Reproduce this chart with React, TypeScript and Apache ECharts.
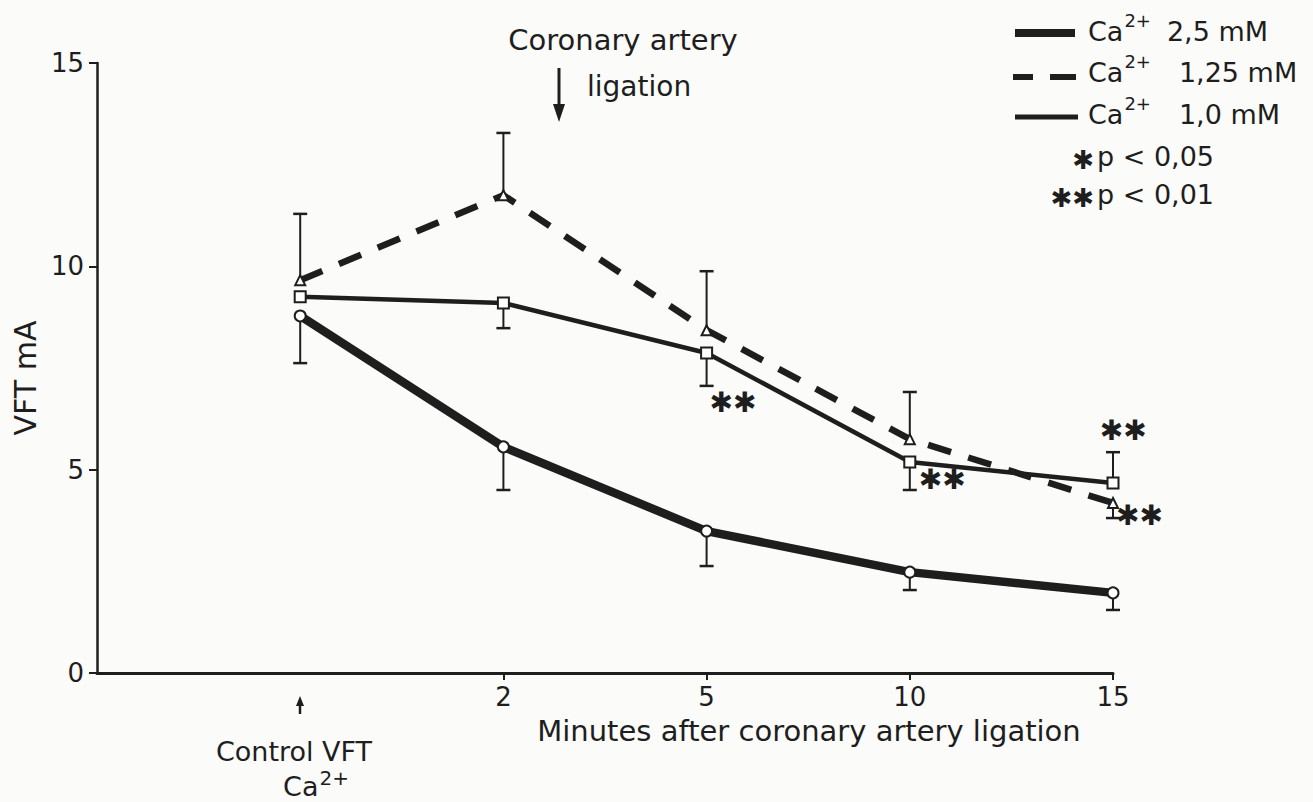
import React, { useEffect, useRef } from "react";
import * as echarts from "echarts";

// x positions: 0 = control, 1..4 = minutes after ligation
const xPositions = [0, 1, 2, 3, 4];
const xTickLabels: Record<number, string> = { 1: "2", 2: "5", 3: "10", 4: "15" };

const ca25 = [8.78, 5.56, 3.49, 2.48, 1.97];
const ca25ErrEnd = [7.62, 4.5, 2.63, 2.04, 1.55];

const ca125 = [9.66, 11.75, 8.43, 5.75, 4.18];
const ca125ErrEnd = [11.29, 13.28, 9.88, 6.91, 3.81];

const ca10 = [9.25, 9.1, 7.87, 5.19, 4.67];
const ca10ErrEnd: (number | null)[] = [null, 8.48, 7.06, 4.5, 5.43];

const starX = [2.13, 3.16, 4.05, 4.13];
const starY = [6.64, 4.75, 5.97, 3.88];
const starText = ["✱✱", "✱✱", "✱✱", "✱✱"];

const FONT = "DejaVu Sans";
const INK = "#1e1e1e";

function pairs(vals: number[]) {
  return xPositions.map((x, i) => [x, vals[i]]);
}
function errData(vals: number[], ends: (number | null)[]) {
  const out: number[][] = [];
  xPositions.forEach((x, i) => {
    if (ends[i] != null) out.push([x, vals[i], ends[i] as number]);
  });
  return out;
}

const errRender = (params: any, api: any) => {
  const x = api.value(0);
  const v = api.value(1);
  const e = api.value(2);
  const p0 = api.coord([x, v]);
  const p1 = api.coord([x, e]);
  return {
    type: "group",
    children: [
      { type: "line", shape: { x1: p0[0], y1: p0[1], x2: p1[0], y2: p1[1] }, style: { stroke: INK, lineWidth: 2 } },
      { type: "line", shape: { x1: p1[0] - 7, y1: p1[1], x2: p1[0] + 7, y2: p1[1] }, style: { stroke: INK, lineWidth: 2.5 } },
    ],
  };
};

function legendRich(padRight: number) {
  return {
    n: { fontFamily: FONT, fontSize: 27, fill: INK, lineHeight: 34, verticalAlign: "bottom" },
    s: { fontFamily: FONT, fontSize: 18, fill: INK, lineHeight: 18, verticalAlign: "top", padding: [0, padRight, 0, 1] },
  };
}

export default function App() {
  const ref = useRef<HTMLDivElement>(null);
  useEffect(() => {
    if (!ref.current) return;
    const chart = echarts.init(ref.current, null, { renderer: "svg" });
    chart.setOption({
      animation: false,
      backgroundColor: "#fbfbf9",
      grid: { left: 97, right: 200, top: 63, bottom: 129, containLabel: false },
      xAxis: {
        type: "value",
        min: -1,
        max: 4,
        interval: 1,
        splitLine: { show: false },
        axisLine: { onZero: false, lineStyle: { color: INK, width: 3 } },
        axisTick: { show: true, customValues: [1, 2, 3, 4], length: 7, lineStyle: { color: INK, width: 2 } },
        axisLabel: {
          customValues: [1, 2, 3, 4],
          formatter: (v: number) => xTickLabels[v] ?? "",
          fontFamily: FONT,
          fontSize: 26,
          color: INK,
          margin: 11,
        },
      },
      yAxis: {
        type: "value",
        min: 0,
        max: 15,
        interval: 5,
        splitLine: { show: false },
        axisLine: { show: true, onZero: false, lineStyle: { color: INK, width: 2.5 } },
        axisTick: { show: true, length: 8, lineStyle: { color: INK, width: 2 } },
        axisLabel: { fontFamily: FONT, fontSize: 26, color: INK, margin: 13 },
      },
      series: [
        { type: "custom", name: "err25", renderItem: errRender, data: errData(ca25, ca25ErrEnd), z: 1 },
        { type: "custom", name: "err125", renderItem: errRender, data: errData(ca125, ca125ErrEnd), z: 1 },
        { type: "custom", name: "err10", renderItem: errRender, data: errData(ca10, ca10ErrEnd), z: 1 },
        {
          type: "line",
          name: "Ca2+ 2,5 mM",
          data: pairs(ca25),
          z: 3,
          symbol: "circle",
          symbolSize: 11,
          lineStyle: { color: INK, width: 8.5 },
          itemStyle: { color: "#fff", borderColor: INK, borderWidth: 2 },
        },
        {
          type: "line",
          name: "Ca2+ 1,25 mM",
          data: pairs(ca125),
          z: 3,
          symbol: "triangle",
          symbolSize: 10,
          lineStyle: { color: INK, width: 6.5, type: [24, 18] },
          itemStyle: { color: "#fff", borderColor: INK, borderWidth: 2 },
        },
        {
          type: "line",
          name: "Ca2+ 1,0 mM",
          data: pairs(ca10),
          z: 3,
          symbol: "rect",
          symbolSize: 11,
          lineStyle: { color: INK, width: 4.5 },
          itemStyle: { color: "#fff", borderColor: INK, borderWidth: 2 },
        },
        {
          type: "custom",
          name: "stars",
          clip: false,
          z: 4,
          data: starX.map((x, i) => [x, starY[i]]),
          renderItem: (params: any, api: any) => {
            const p = api.coord([api.value(0), api.value(1)]);
            return {
              type: "text",
              x: p[0],
              y: p[1],
              style: {
                text: starText[params.dataIndex],
                font: `28px "${FONT}"`,
                fill: INK,
                align: "center",
                verticalAlign: "middle",
              },
            };
          },
        },
      ],
      graphic: [
        // y axis name
        {
          type: "text",
          x: 25,
          y: 378,
          rotation: Math.PI / 2,
          style: { text: "VFT mA", font: `30px "${FONT}"`, fill: INK, align: "center", verticalAlign: "middle" },
        },
        // x axis name
        {
          type: "text",
          x: 809,
          y: 731,
          style: {
            text: "Minutes after coronary artery ligation",
            font: `29px "${FONT}"`,
            fill: INK,
            align: "center",
            verticalAlign: "middle",
          },
        },
        // control label
        {
          type: "text",
          x: 294,
          y: 751,
          style: { text: "Control VFT", font: `27px "${FONT}"`, fill: INK, align: "center", verticalAlign: "middle" },
        },
        {
          type: "text",
          x: 316,
          y: 784,
          style: {
            text: "{n|Ca}{s|2+}",
            align: "center",
            verticalAlign: "middle",
            rich: {
              n: { fontFamily: FONT, fontSize: 27, fill: INK, lineHeight: 32, verticalAlign: "bottom" },
              s: { fontFamily: FONT, fontSize: 20, fill: INK, lineHeight: 22, verticalAlign: "top", padding: [0, 0, 0, 1] },
            },
          },
        },
        { type: "line", shape: { x1: 300, y1: 714, x2: 300, y2: 704 }, style: { stroke: INK, lineWidth: 2.5 } },
        { type: "polygon", shape: { points: [[296, 706], [304, 706], [300, 696]] }, style: { fill: INK } },
        // coronary artery ligation annotation
        {
          type: "text",
          x: 623,
          y: 40,
          style: { text: "Coronary artery", font: `29px "${FONT}"`, fill: INK, align: "center", verticalAlign: "middle" },
        },
        {
          type: "text",
          x: 587,
          y: 86,
          style: { text: "ligation", font: `28px "${FONT}"`, fill: INK, align: "left", verticalAlign: "middle" },
        },
        { type: "line", shape: { x1: 559, y1: 68, x2: 559, y2: 108 }, style: { stroke: INK, lineWidth: 3 } },
        { type: "polygon", shape: { points: [[553, 104], [565, 104], [559, 122]] }, style: { fill: INK } },
        // legend
        { type: "line", shape: { x1: 1015, y1: 33, x2: 1075, y2: 33 }, style: { stroke: INK, lineWidth: 8 } },
        { type: "line", shape: { x1: 1013, y1: 77, x2: 1033, y2: 77 }, style: { stroke: INK, lineWidth: 6 } },
        { type: "line", shape: { x1: 1050, y1: 77, x2: 1076, y2: 77 }, style: { stroke: INK, lineWidth: 6 } },
        { type: "line", shape: { x1: 1015, y1: 117, x2: 1078, y2: 117 }, style: { stroke: INK, lineWidth: 5 } },
        {
          type: "text",
          x: 1088,
          y: 28,
          style: { text: "{n|Ca}{s|2+}{n|2,5 mM}", verticalAlign: "middle", rich: legendRich(16) },
        },
        {
          type: "text",
          x: 1088,
          y: 69,
          style: { text: "{n|Ca}{s|2+}{n|1,25 mM}", verticalAlign: "middle", rich: legendRich(28) },
        },
        {
          type: "text",
          x: 1088,
          y: 111,
          style: { text: "{n|Ca}{s|2+}{n|1,0 mM}", verticalAlign: "middle", rich: legendRich(28) },
        },
        {
          type: "text",
          x: 1094,
          y: 160,
          style: { text: "✱", font: `26px "${FONT}"`, fill: INK, align: "right", verticalAlign: "middle" },
        },
        {
          type: "text",
          x: 1097,
          y: 156,
          style: { text: "p < 0,05", font: `27px "${FONT}"`, fill: INK, align: "left", verticalAlign: "middle" },
        },
        {
          type: "text",
          x: 1094,
          y: 198,
          style: { text: "✱✱", font: `26px "${FONT}"`, fill: INK, align: "right", verticalAlign: "middle" },
        },
        {
          type: "text",
          x: 1097,
          y: 194,
          style: { text: "p < 0,01", font: `27px "${FONT}"`, fill: INK, align: "left", verticalAlign: "middle" },
        },
      ],
    });
    return () => chart.dispose();
  }, []);
  return <div ref={ref} style={{ position: "fixed", left: 0, top: 0, width: 1313, height: 802 }} />;
}
